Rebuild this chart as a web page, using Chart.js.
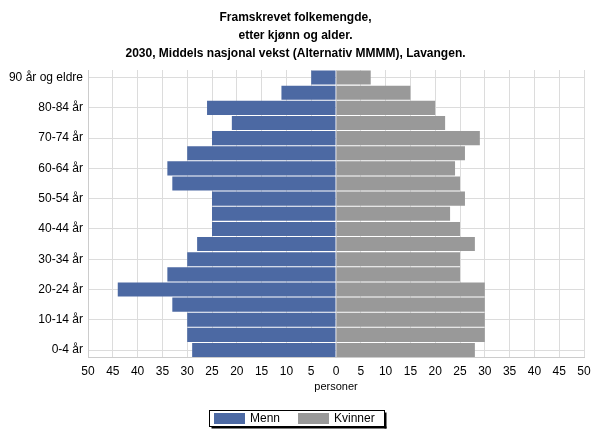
<!DOCTYPE html>
<html>
<head>
<meta charset="utf-8">
<script src="https://cdn.jsdelivr.net/npm/chart.js@4/dist/chart.umd.min.js"></script>
<style>
  body { margin: 0; background: #fff; }
  #wrap { width: 591px; height: 430px; }
</style>
</head>
<body>
<div id="wrap"><canvas id="pyramide" width="591" height="430"></canvas></div>
<script>
// aldersgrupper, yngst først
const aldersgrupper = ['0-4 år', '5-9 år', '10-14 år', '15-19 år', '20-24 år', '25-29 år', '30-34 år',
    '35-39 år', '40-44 år', '45-49 år', '50-54 år', '55-59 år', '60-64 år', '65-69 år',
    '70-74 år', '75-79 år', '80-84 år', '85-89 år', '90 år og eldre'];
const menn = [29, 30, 30, 33, 44, 34, 30, 28, 25, 25, 25, 33, 34, 30, 25, 21, 26, 11, 5];
const kvinner = [28, 30, 30, 30, 30, 25, 25, 28, 25, 23, 26, 25, 24, 26, 29, 22, 20, 15, 7];
const tittel = ['Framskrevet folkemengde,', 'etter kjønn og alder.',
    '2030, Middels nasjonal vekst (Alternativ MMMM), Lavangen.'];
const aksetittel = 'personer';

const fontNarrow = '"Liberation Sans Narrow", "Arial Narrow", "Liberation Sans", Arial, sans-serif';
const fontVanlig = '"Liberation Sans", Arial, sans-serif';

// aksetittel og egen legende med ramme og skygge nederst
const legende = {
    id: 'legende',
    afterDraw(chart) {
        const c = chart.ctx;
        const ca = chart.chartArea;
        c.save();
        c.font = '11px ' + fontVanlig;
        c.fillStyle = '#000';
        c.textAlign = 'center';
        c.textBaseline = 'middle';
        c.fillText(aksetittel, (ca.left + ca.right) / 2, 387);

        const x = 209.5, y = 410.5, w = 175, h = 16;
        c.fillStyle = '#fff';
        c.fillRect(x, y, w, h);
        c.fillStyle = '#000';
        c.fillRect(x + w, y + 2, 2, h);
        c.fillRect(x + 2, y + h, w, 2);
        c.strokeStyle = '#000';
        c.lineWidth = 1;
        c.strokeRect(x, y, w, h);
        c.font = '12px ' + fontVanlig;
        c.textAlign = 'left';
        let px = 214;
        chart.data.datasets.forEach(ds => {
            c.fillStyle = ds.backgroundColor;
            c.fillRect(px, 413, 31, 11);
            c.fillStyle = '#000';
            c.fillText(ds.label, px + 36, 419);
            px += 36 + c.measureText(ds.label).width + 18;
        });
        c.restore();
    }
};

const ctx = document.getElementById('pyramide').getContext('2d');
new Chart(ctx, {
    type: 'bar',
    data: {
        labels: aldersgrupper,
        datasets: [{
            label: 'Menn',
            data: menn.map(v => -v),
            backgroundColor: '#4c69a3',
            barPercentage: 0.93,
            categoryPercentage: 1
        }, {
            label: 'Kvinner',
            data: kvinner,
            backgroundColor: '#999999',
            barPercentage: 0.93,
            categoryPercentage: 1
        }]
    },
    options: {
        responsive: false,
        animation: false,
        indexAxis: 'y',
        layout: { padding: { left: 0, right: 0, top: 0, bottom: 44 } },
        scales: {
            x: {
                stacked: true,
                min: -50,
                max: 50,
                ticks: {
                    stepSize: 5,
                    color: '#000',
                    font: { family: fontVanlig, size: 12 },
                    callback: v => Math.abs(v),
                    padding: 7
                },
                grid: { color: '#dcdcdc', drawTicks: false },
                border: { color: '#cccccc' },
                afterFit: s => { s.paddingRight = 7; s.paddingLeft = 0; }
            },
            y: {
                stacked: true,
                reverse: true,
                ticks: {
                    autoSkip: false,
                    color: '#000',
                    font: { family: fontVanlig, size: 12 },
                    callback: (v, i) => (i % 2 === 0 ? aldersgrupper[i] : ''),
                    padding: 5
                },
                grid: {
                    offset: false,
                    color: ctx => (ctx.index % 2 === 0 ? '#dcdcdc' : 'rgba(0,0,0,0)'),
                    drawTicks: false
                },
                border: { color: '#cccccc' },
                afterFit: s => { s.width = 88; }
            }
        },
        plugins: {
            title: {
                display: true,
                text: tittel,
                color: '#000',
                font: { family: fontNarrow, size: 12, weight: 'bold', lineHeight: 1.5 },
                padding: { top: 9, bottom: 7 }
            },
            legend: { display: false },
            tooltip: { enabled: false }
        }
    },
    plugins: [legende]
});
</script>
</body>
</html>
